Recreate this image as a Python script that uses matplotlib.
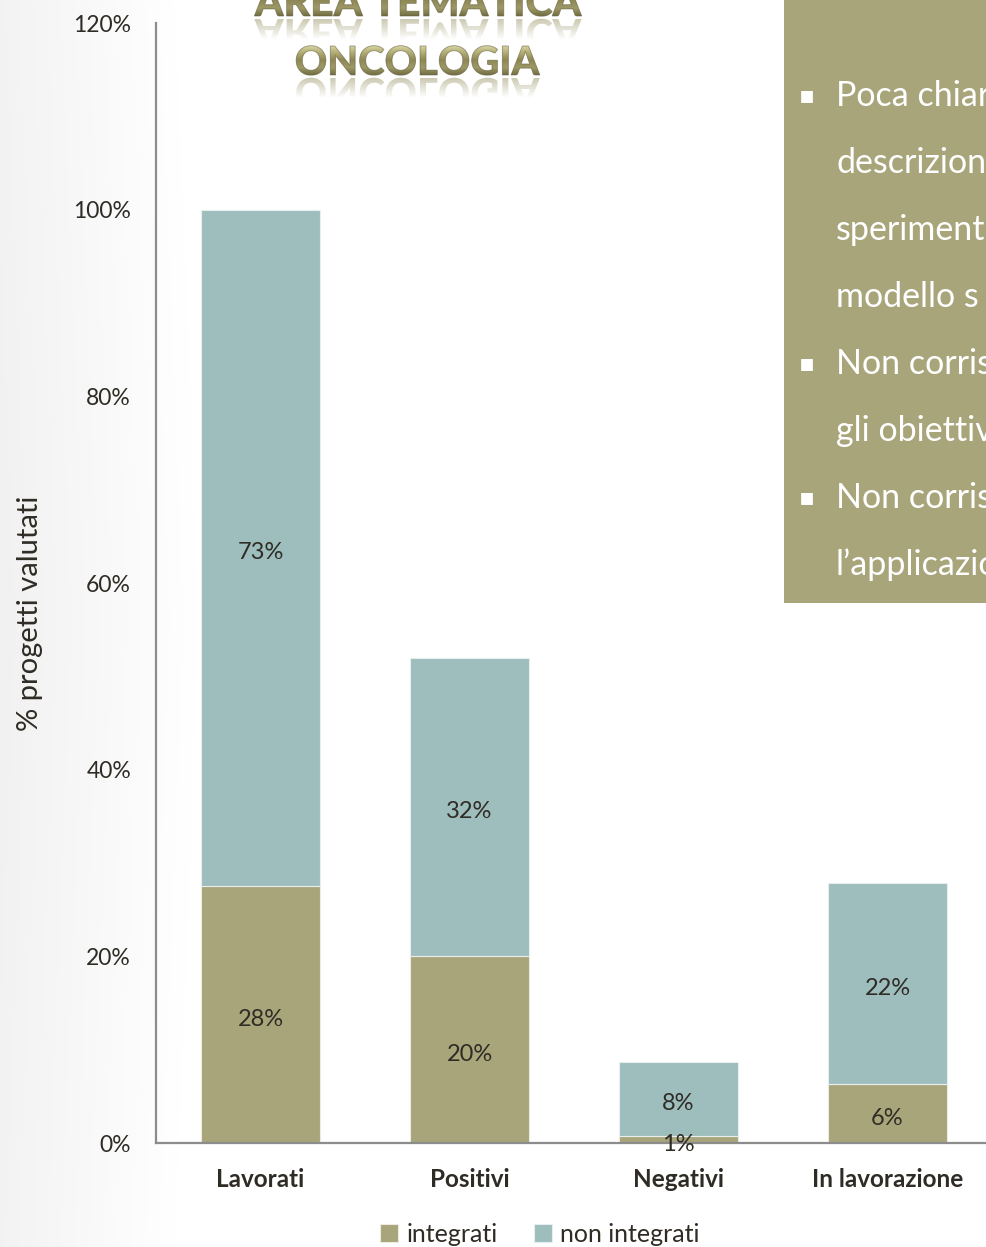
import math
import numpy as np
import matplotlib
matplotlib.use("Agg")
import matplotlib.pyplot as plt
from matplotlib.patches import Rectangle, PathPatch
from matplotlib.textpath import TextPath
from matplotlib.font_manager import FontProperties
from matplotlib.transforms import Affine2D

# ---- data -------------------------------------------------------------
categories = ["Lavorati", "Positivi", "Negativi", "In lavorazione"]
integrati = [27.5, 20.0, 0.8, 6.3]          # % progetti valutati
non_integrati = [72.5, 32.0, 7.9, 21.6]
series_names = ["integrati", "non integrati"]
y_ticks = [0, 20, 40, 60, 80, 100, 120]
title_lines = ["AREA TEMATICA", "ONCOLOGIA"]
y_label = "% progetti valutati"
box_lines = [
    (True, "Poca chiar"),
    (False, "descrizion"),
    (False, "speriment"),
    (False, "modello s"),
    (True, "Non corris"),
    (False, "gli obiettiv"),
    (True, "Non corris"),
    (False, "l\u2019applicazio"),
]

# ---- style ------------------------------------------------------------
W, H = 986, 1247
OLIVE = "#A8A57B"
TEAL = "#9DBEBD"
INK = "#2F2B25"
AXIS = "#8C8C8C"
FONT = ["Lato", "DejaVu Sans"]
plt.rcParams["font.family"] = FONT


def pct(v):
    return f"{math.floor(v + 0.5):d}%"


fig = plt.figure(figsize=(W / 100, H / 100), dpi=100)

# soft grey shading on the left edge of the page
bg = fig.add_axes([0, 0, 1, 1], zorder=-10)
xx = np.linspace(0, 1, 400)[None, :]
yy = np.linspace(0, 1, 400)[:, None]
shade = 0.945 + 0.055 * np.clip(xx / 0.2 + 0.25 * np.abs(yy - 0.5), 0, 1)
bg.imshow(np.dstack([shade] * 3), extent=[0, 1, 0, 1], aspect="auto")
bg.set_xlim(0, 1)
bg.set_ylim(0, 1)
bg.axis("off")

# ---- stacked bars -----------------------------------------------------
ax = fig.add_axes([156 / W, 104 / H, 836 / W, 1120 / H])
ax.patch.set_alpha(0)
x = np.arange(len(categories))
bw = 0.57
b1 = ax.bar(x, integrati, width=bw, color=OLIVE, edgecolor="#EDEBE0",
            linewidth=0.8, label=series_names[0], zorder=2)
b2 = ax.bar(x, non_integrati, width=bw, bottom=integrati, color=TEAL,
            edgecolor="#E6EEEE", linewidth=0.8, label=series_names[1], zorder=2)

for xi, a, b in zip(x, integrati, non_integrati):
    ax.text(xi, a / 2 - 0.3, pct(a), ha="center", va="center_baseline",
            fontsize=17, color=INK, zorder=5)
    ax.text(xi, a + b / 2 - 0.3, pct(b), ha="center", va="center_baseline",
            fontsize=17, color=INK, zorder=5)

ax.set_xlim(-0.5, 3.5)
ax.set_ylim(0, 120)
ax.set_yticks(y_ticks)
ax.set_yticklabels([f"{t}%" for t in y_ticks], fontsize=16.5, color=INK)
ax.set_xticks(x)
ax.set_xticklabels(categories, fontsize=17.5, fontweight="bold", color=INK)
ax.tick_params(axis="y", length=0, pad=18)
ax.tick_params(axis="x", length=0, pad=18)
for s in ("top", "right"):
    ax.spines[s].set_visible(False)
for s in ("left", "bottom"):
    ax.spines[s].set_color(AXIS)
    ax.spines[s].set_linewidth(1.6)

fig.text(30 / W, 1 - 613 / H, y_label, rotation=90, ha="center",
         va="center", fontsize=21, color=INK)

fig.legend(handles=[b1, b2], labels=series_names, loc="center",
           bbox_to_anchor=(540 / W, 1 - 1234 / H), ncol=2, frameon=False,
           fontsize=18, handlelength=0.7, handleheight=0.7,
           handletextpad=0.35, columnspacing=1.45, labelcolor=INK,
           borderpad=0)

# ---- overlay in pixel coordinates (y downward) -----------------------
ov = fig.add_axes([0, 0, 1, 1], zorder=20)
ov.set_autoscale_on(False)
ov.set_xlim(0, W)
ov.set_ylim(H, 0)
ov.axis("off")
ov.patch.set_alpha(0)

# olive text panel
ov.add_patch(Rectangle((784, -5), 220, 608, facecolor=OLIVE,
                       edgecolor="none", zorder=1))
base = 106
for i, (bullet, line) in enumerate(box_lines):
    yb = base + i * 67.0
    if bullet:
        ov.text(807, yb - 11, "\u25aa", ha="center", va="center",
                fontsize=17, color="white", zorder=3,
                family=["DejaVu Sans"])
    ov.text(836, yb, line, ha="left", va="baseline", fontsize=24.5,
            color="white", zorder=3)

# bevelled title with mirrored reflection
fp = FontProperties(family="Lato", weight="black")
gold = np.array([[0.86, 0.85, 0.66],
                 [0.70, 0.68, 0.46],
                 [0.55, 0.53, 0.33],
                 [0.62, 0.60, 0.40],
                 [0.45, 0.43, 0.26]])


def vertical_ramp(stops, n=64):
    t = np.linspace(0, 1, n)
    k = np.linspace(0, 1, len(stops))
    return np.stack([np.interp(t, k, stops[:, c]) for c in range(3)], -1)


def title_line(text, cx, baseline, size):
    tp = TextPath((0, 0), text, size=size, prop=fp)
    ext = tp.get_extents()
    x0 = cx - ext.width / 2 - ext.x0
    left, right = cx - ext.width / 2, cx + ext.width / 2
    top = baseline - ext.y1
    bottom = baseline - ext.y0
    # upright glyphs
    up = Affine2D().scale(1, -1).translate(x0, baseline).transform_path(tp)
    clip = PathPatch(up, facecolor="none", edgecolor="none",
                     transform=ov.transData)
    ov.add_patch(clip)
    ramp = vertical_ramp(gold)[:, None, :].repeat(2, axis=1)
    im = ov.imshow(ramp, extent=[left, right, bottom, top], aspect="auto",
                   interpolation="bilinear", zorder=4)
    im.set_clip_path(clip)
    ov.add_patch(PathPatch(up, facecolor="none", edgecolor="#5E5B38",
                           linewidth=0.6, alpha=0.6, zorder=5))
    # reflection below the baseline, fading out
    gap = 3
    dn = Affine2D().translate(x0, baseline + gap).transform_path(tp)
    rclip = PathPatch(dn, facecolor="none", edgecolor="none",
                      transform=ov.transData)
    ov.add_patch(rclip)
    h = ext.y1
    n = 64
    alpha = np.clip(0.55 * (1 - np.linspace(0, 1, n) / 0.7), 0, 1)
    rgba = np.zeros((n, 2, 4))
    rgba[..., :3] = [0.62, 0.60, 0.42]
    rgba[..., 3] = alpha[:, None]
    rim = ov.imshow(rgba, extent=[left, right, baseline + gap + h,
                                  baseline + gap], aspect="auto",
                    interpolation="bilinear", zorder=3)
    rim.set_clip_path(rclip)


title_line(title_lines[0], 418, 16, 41)
title_line(title_lines[1], 418, 75, 40)

ov.set_xlim(0, W)
ov.set_ylim(H, 0)

fig.savefig("out.png", dpi=100)
